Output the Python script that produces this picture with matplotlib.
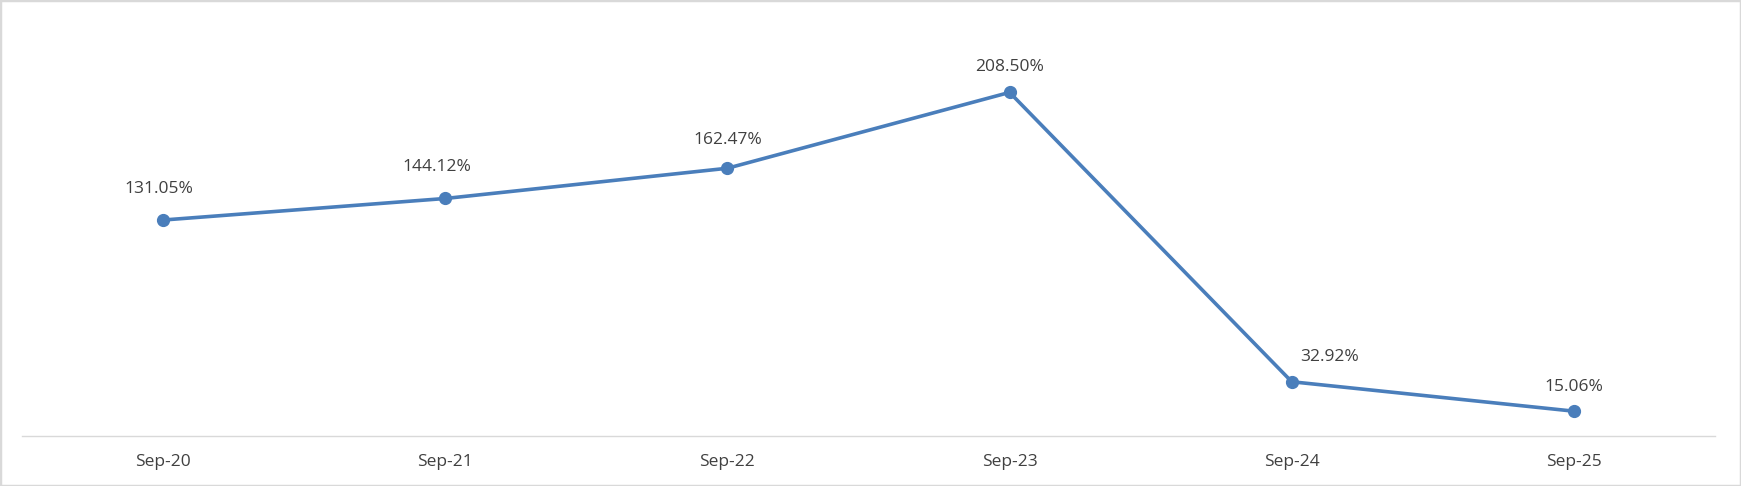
import matplotlib.pyplot as plt
from matplotlib.patches import Rectangle

months = ["Sep-20", "Sep-21", "Sep-22", "Sep-23", "Sep-24", "Sep-25"]
values = [131.05, 144.12, 162.47, 208.50, 32.92, 15.06]
labels = ["131.05%", "144.12%", "162.47%", "208.50%", "32.92%", "15.06%"]

plt.rcParams["font.family"] = ["Open Sans", "DejaVu Sans"]

fig = plt.figure(figsize=(17.41, 4.86), dpi=100)
ax = fig.add_axes([22 / 1741, 50 / 486, 1693 / 1741, 412 / 486])

x = range(len(months))
ax.plot(x, values, color="#4A7EBB", linewidth=2.6, marker="o", markersize=8.5)

# label offsets in pixels (dx, dy)
offsets = [(-4, 31), (-8, 31), (0, 28), (0, 25), (38, 25), (0, 24)]
for i, (v, lab) in enumerate(zip(values, labels)):
    dx, dy = offsets[i]
    ax.annotate(lab, (i, v), xytext=(dx * 0.72, dy * 0.72), textcoords="offset points",
                ha="center", va="center", fontsize=12.5, color="#404040")

ax.set_xlim(-0.5, 5.5)
ax.set_ylim(0, 250)
ax.set_xticks(list(x))
ax.set_xticklabels(months, fontsize=12.5, color="#404040")
ax.tick_params(axis="x", length=0, pad=13)
ax.set_yticks([])
for s in ["top", "left", "right"]:
    ax.spines[s].set_visible(False)
ax.spines["bottom"].set_color("#D9D9D9")
ax.spines["bottom"].set_linewidth(1)

fig.patches.append(Rectangle((0, 0), 1, 1, transform=fig.transFigure, fill=False,
                             edgecolor="#D9D9D9", linewidth=2.5))

plt.savefig("out.png", dpi=100)
